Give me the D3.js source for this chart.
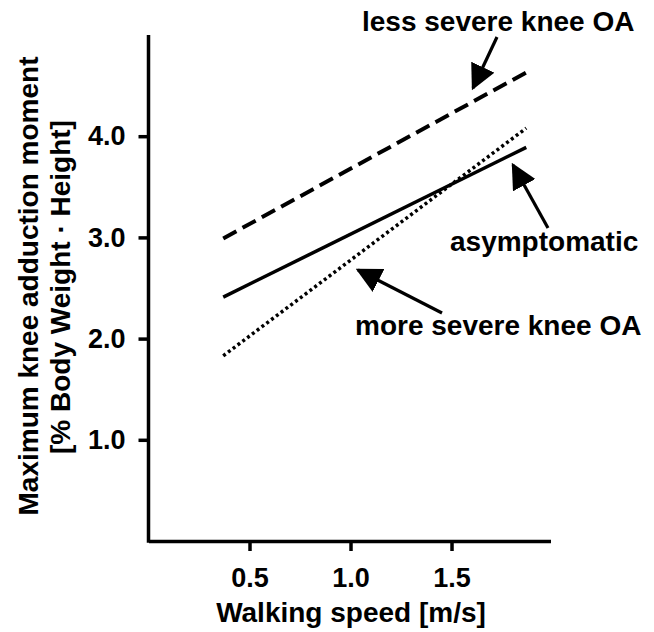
<!DOCTYPE html>
<html>
<head>
<meta charset="utf-8">
<script src="https://cdn.jsdelivr.net/npm/d3@7"></script>
<style>
  body { margin: 0; background: #fff; }
  svg text { font-family: "Liberation Sans", Arial, sans-serif; font-weight: bold; fill: #000; }
</style>
</head>
<body>
<svg id="chart" width="654" height="632"></svg>
<script>
// walking speed (m/s) at the two ends of each regression line
const speed = [0.37, 1.87];
// knee adduction moment (% BW * Ht) at those speeds
const lessSevere = [2.99, 4.63];
const asymptomatic = [2.41, 3.89];
const moreSevere = [1.83, 4.08];

const xTicks = [0.5, 1.0, 1.5];
const yTicks = [1.0, 2.0, 3.0, 4.0];
const groupNames = ['less severe knee OA', 'asymptomatic', 'more severe knee OA'];

const svg = d3.select('#chart');

const x = d3.scaleLinear().domain([0, 1.99]).range([148.5, 550.5]);
const y = d3.scaleLinear().domain([0, 5]).range([541, 35]);

// axes
let gx = svg.append('g')
    .attr('transform', 'translate(0,' + y(0) + ')')
    .call(d3.axisBottom(x).tickValues(xTicks).tickFormat(d3.format('.1f'))
        .tickSize(10).tickSizeOuter(0).tickPadding(17));
let gy = svg.append('g')
    .attr('transform', 'translate(' + x(0) + ',0)')
    .call(d3.axisLeft(y).tickValues(yTicks).tickFormat(d3.format('.1f'))
        .tickSize(10).tickSizeOuter(0).tickPadding(13));

[gx, gy].forEach(g => {
    g.select('.domain').attr('stroke', '#000').attr('stroke-width', 3.5);
    g.selectAll('.tick line').attr('stroke', '#000').attr('stroke-width', 3.5);
    g.selectAll('.tick text').attr('font-size', '27px').attr('fill', '#000')
        .style('font-family', '"Liberation Sans", Arial, sans-serif').style('font-weight', 'bold');
});
// stretch the y axis line down to meet the x axis
gy.select('.domain').attr('d', 'M0,' + (y(0) + 1.7) + 'V' + y(5));

// axis titles
svg.append('text')
    .attr('x', 351).attr('y', 622)
    .attr('text-anchor', 'middle')
    .attr('font-size', '28px')
    .text('Walking speed [m/s]');

svg.append('text')
    .attr('transform', 'translate(38,286) rotate(-90)')
    .attr('text-anchor', 'middle')
    .attr('font-size', '28px')
    .text('Maximum knee adduction moment');
svg.append('text')
    .attr('transform', 'translate(70,287) rotate(-90)')
    .attr('text-anchor', 'middle')
    .attr('font-size', '28px')
    .text('[% Body Weight \u00b7 Height]');

// regression lines
const line = d3.line().x(d => x(d[0])).y(d => y(d[1]));
const series = [
    { values: lessSevere, dash: '15,7', width: 4 },
    { values: asymptomatic, dash: null, width: 3.5 },
    { values: moreSevere, dash: '3,3', width: 3.5 }
];
series.forEach(s => {
    svg.append('path')
        .datum(speed.map((v, i) => [v, s.values[i]]))
        .attr('d', line)
        .attr('fill', 'none')
        .attr('stroke', '#000')
        .attr('stroke-width', s.width)
        .attr('stroke-dasharray', s.dash);
});

// arrow heads
svg.append('defs').append('marker')
    .attr('id', 'head')
    .attr('viewBox', '0 0 10 10')
    .attr('refX', 9).attr('refY', 5)
    .attr('markerWidth', 8).attr('markerHeight', 8)
    .attr('markerUnits', 'strokeWidth')
    .attr('orient', 'auto')
    .append('path')
    .attr('d', 'M0,0L10,5L0,10Z')
    .attr('fill', '#000');

const labels = [
    { text: groupNames[0], tx: 362, ty: 31, from: [497, 37], to: [473, 88] },
    { text: groupNames[1], tx: 450, ty: 251, from: [548, 228], to: [513, 165] },
    { text: groupNames[2], tx: 355, ty: 335, from: [442, 313], to: [358, 270] }
];
labels.forEach(l => {
    svg.append('text')
        .attr('x', l.tx).attr('y', l.ty)
        .attr('font-size', '28px')
        .text(l.text);
    svg.append('line')
        .attr('x1', l.from[0]).attr('y1', l.from[1])
        .attr('x2', l.to[0]).attr('y2', l.to[1])
        .attr('stroke', '#000')
        .attr('stroke-width', 3.2)
        .attr('marker-end', 'url(#head)');
});
</script>
</body>
</html>
